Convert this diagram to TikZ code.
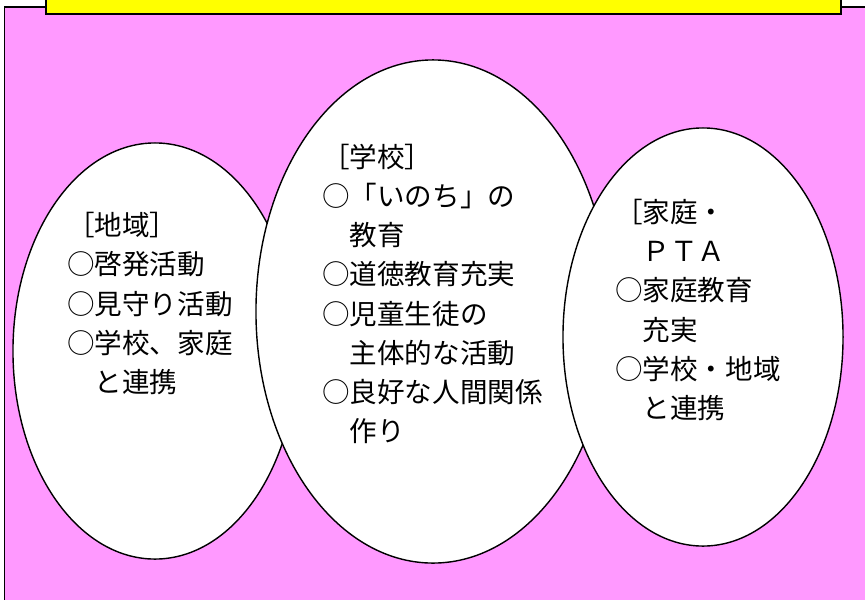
\documentclass[tikz,border=0pt]{standalone}
\usepackage{fontspec}
\newfontfamily\jpfont{Noto Sans CJK JP}
\definecolor{bgpink}{HTML}{FF99FF}
\definecolor{titleyellow}{HTML}{FFFF00}
\tikzset{
  bubble/.style={ellipse,draw=black,fill=white,line width=1pt,inner sep=0pt},
  bubbletext/.style={anchor=west,inner sep=0pt,align=left,
    font=\jpfont\fontsize{19.6pt}{27.9pt}\selectfont}
}
\usetikzlibrary{shapes.geometric}
\begin{document}
\begin{tikzpicture}[x=0.025cm,y=-0.025cm]
\useasboundingbox(0,0)rectangle(865,599);
%background
\draw[fill=bgpink,line width=0.8pt](4.5,7)rectangle(900,640);
\draw[fill=titleyellow,line width=2pt](46,-60)rectangle(841,14);
%ellipses
\node[bubble,minimum width=7.1cm,minimum height=10.4cm](chiiki)at(155,351){};
\node[bubble,minimum width=8.85cm,minimum height=12.575cm](gakko)at(433,311.5){};
\node[bubble,minimum width=7cm,minimum height=10.45cm](katei)at(703,337){};
%texts
\node[bubbletext](chiikitxt)at(67,303.5){［地域］\\○啓発活動\\○見守り活動\\○学校、家庭\\　と連携};
\node[bubbletext](gakkotxt)at(322,294){［学校］\\○「いのち」の\\　教育\\○道徳教育充実\\○児童生徒の\\　主体的な活動\\○良好な人間関係\\　作り};
\node[bubbletext](kateitxt)at(615,310){［家庭・\\　ＰＴＡ\\○家庭教育\\　充実\\○学校・地域\\　と連携};
\end{tikzpicture}
\end{document}
